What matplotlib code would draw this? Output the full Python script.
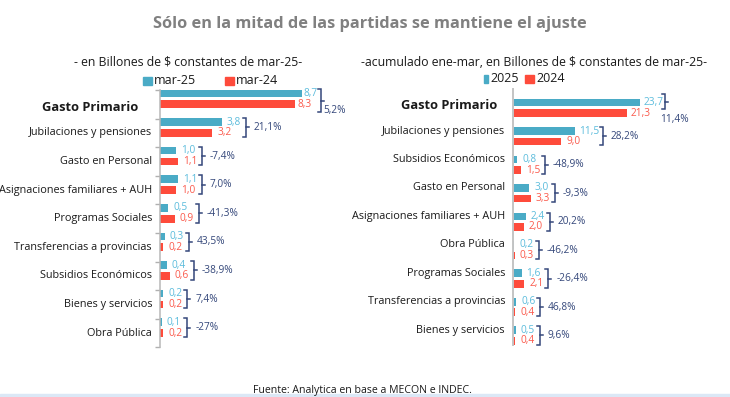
import matplotlib
matplotlib.use("Agg")
import matplotlib.pyplot as plt
from matplotlib.patches import Rectangle

plt.rcParams['font.family'] = ['Open Sans', 'DejaVu Sans']

# datos - panel izquierdo (mensual)
cat_izq = ["Gasto Primario", "Jubilaciones y pensiones", "Gasto en Personal",
           "Asignaciones familiares + AUH", "Programas Sociales",
           "Transferencias a provincias", "Subsidios Económicos",
           "Bienes y servicios", "Obra Pública"]
mar25 = [8.7, 3.8, 1.0, 1.1, 0.5, 0.3, 0.4, 0.2, 0.1]
mar24 = [8.3, 3.2, 1.1, 1.0, 0.9, 0.2, 0.6, 0.2, 0.2]
var_izq = ["5,2%", "21,1%", "-7,4%", "7,0%", "-41,3%", "43,5%", "-38,9%", "7,4%", "-27%"]

# datos - panel derecho (acumulado ene-mar)
cat_der = ["Gasto Primario", "Jubilaciones y pensiones", "Subsidios Económicos",
           "Gasto en Personal", "Asignaciones familiares + AUH", "Obra Pública",
           "Programas Sociales", "Transferencias a provincias", "Bienes y servicios"]
a2025 = [23.7, 11.5, 0.8, 3.0, 2.4, 0.2, 1.6, 0.6, 0.5]
a2024 = [21.3, 9.0, 1.5, 3.3, 2.0, 0.3, 2.1, 0.4, 0.4]
var_der = ["11,4%", "28,2%", "-48,9%", "-9,3%", "20,2%", "-46,2%", "-26,4%", "46,8%", "9,6%"]

AZUL = "#4aabc6"
ROJO = "#fe4b3b"
AZUL_TXT = "#5cbcdc"
ROJO_TXT = "#fb5a4c"
NAVY = "#34477a"

W, H = 730, 397
fig = plt.figure(figsize=(7.3, 3.97), dpi=100)
fig.patch.set_facecolor("white")


def fr(x0, y0, x1, y1):
    return [x0 / W, 1 - y1 / H, (x1 - x0) / W, (y1 - y0) / H]


def panel(ax, cats, v1, v2, var, xmax, off1, off2, lab_off, ticks_sep, gp):
    n = len(cats)
    h = 0.27
    y1 = [i + off1 for i in range(n)]
    y2 = [i + off2 for i in range(n)]
    ax.barh(y1, v1, height=h, color=AZUL)
    ax.barh(y2, v2, height=h, color=ROJO)
    ax.set_xlim(0, xmax)
    ax.set_ylim(n - 0.5, -0.5)
    ax.set_xticks([])
    ax.set_yticks([])
    for s in ["top", "right", "bottom"]:
        ax.spines[s].set_visible(False)
    ax.spines["left"].set_color("#b8b8b8")
    ax.spines["left"].set_linewidth(1.1)
    if ticks_sep:
        ax.set_yticks([i - 0.5 for i in range(n + 1)], minor=True)
        ax.tick_params(axis="y", which="minor", length=3.5, width=1, color="#b0b0b0", direction="out")

    axw = ax.get_position().width * W
    ppu = axw / xmax  # pixeles por unidad
    d = 1.0 / ppu

    # etiquetas de categorias
    tr = ax.get_yaxis_transform()
    for i, c in enumerate(cats):
        if i == 0:
            ax.text(-gp["lpad"] / axw, i + lab_off + 0.1, c, transform=tr, ha="right",
                    va="center", fontsize=9.3, fontweight="bold", color="#1a1a1a")
        else:
            ax.text(-8 / axw, i + lab_off, c, transform=tr, ha="right",
                    va="center", fontsize=7.8, color="#1a1a1a")

    for i in range(n):
        lo = gp["loff"] if i == 0 else 5
        ax.text(v1[i] + lo * d, y1[i], f"{v1[i]:.1f}".replace(".", ","),
                color=AZUL_TXT, fontsize=7.3, va="center", ha="left")
        ax.text(v2[i] + lo * d, y2[i], f"{v2[i]:.1f}".replace(".", ","),
                color=ROJO_TXT, fontsize=7.3, va="center", ha="left")
        bx = max(v1[i], v2[i]) + (28 if max(v1[i], v2[i]) >= 10 else 24) * d
        top = y1[i] - h / 2
        bot = y2[i] + h / 2
        if i == 0:
            bx = max(v1[i], v2[i]) + gp["gap"] * d
            top = i + gp["top"]
            bot = i + gp["bot"]
        mid = (top + bot) / 2
        ax.plot([bx - 3 * d, bx, bx, bx - 3 * d], [top, top, bot, bot],
                color=NAVY, lw=1.1, clip_on=False, solid_joinstyle="miter")
        ax.plot([bx, bx + 3 * d], [mid, mid], color=NAVY, lw=1.1, clip_on=False)
        if i == 0:
            ax.text(bx + gp["tx"] * d, i + gp["ty"], var[i], color=NAVY,
                    fontsize=7.3, va="center", ha="left")
        else:
            ax.text(bx + 8 * d, mid, var[i], color=NAVY, fontsize=7.3, va="center", ha="left")


axL = fig.add_axes(fr(160, 90, 360, 347.4))
panel(axL, cat_izq, mar25, mar24, var_izq, 200 / 16.3, -0.38, 0.0, 0.0, True,
      {"gap": 19, "top": -0.52, "bot": 0.27, "tx": 3, "ty": 0.2, "loff": 2, "lpad": 22})

axR = fig.add_axes(fr(513, 89, 730, 345))
panel(axR, cat_der, a2025, a2024, var_der, 217 / 5.35, -0.02, 0.35, -0.02, False,
      {"gap": 25, "top": -0.32, "bot": 0.22, "tx": -5, "ty": 0.56, "loff": 4, "lpad": 16})
axR.spines["left"].set_color("#c4c4c4")
axR.spines["left"].set_linewidth(1.4)

# titulos
fig.text(370 / W, 1 - 24 / H, "Sólo en la mitad de las partidas se mantiene el ajuste",
         ha="center", va="center", fontsize=11.8, fontweight="bold", color="#808080")
fig.text(188 / W, 1 - 62 / H, "- en Billones de $ constantes de mar-25-",
         ha="center", va="center", fontsize=8.8, color="#1a1a1a")
fig.text(534 / W, 1 - 62 / H, "-acumulado ene-mar, en Billones de $ constantes de mar-25-",
         ha="center", va="center", fontsize=8.8, color="#1a1a1a")


# leyendas
def leyenda(x, y, w, hgt, color, texto):
    fig.patches.append(Rectangle((x / W, 1 - (y + hgt / 2) / H), w / W, hgt / H,
                                 transform=fig.transFigure, color=color, figure=fig))
    fig.text((x + w + 2) / W, 1 - y / H, texto, ha="left", va="center",
             fontsize=9, color="#1a1a1a")


leyenda(143, 81, 9, 8, AZUL, "mar-25")
leyenda(225, 81, 9, 8, ROJO, "mar-24")
leyenda(484, 79, 4, 8, AZUL, "2025")
leyenda(525, 79, 9, 8, ROJO, "2024")

fig.text(362 / W, 1 - 390 / H, "Fuente: Analytica en base a MECON e INDEC.",
         ha="center", va="center", fontsize=7.6, color="#1a1a1a")

# franja inferior
fig.patches.append(Rectangle((0, 0), 1, 3 / H, transform=fig.transFigure,
                             color="#dbe8f6", figure=fig))

fig.savefig("out.png", dpi=100)
